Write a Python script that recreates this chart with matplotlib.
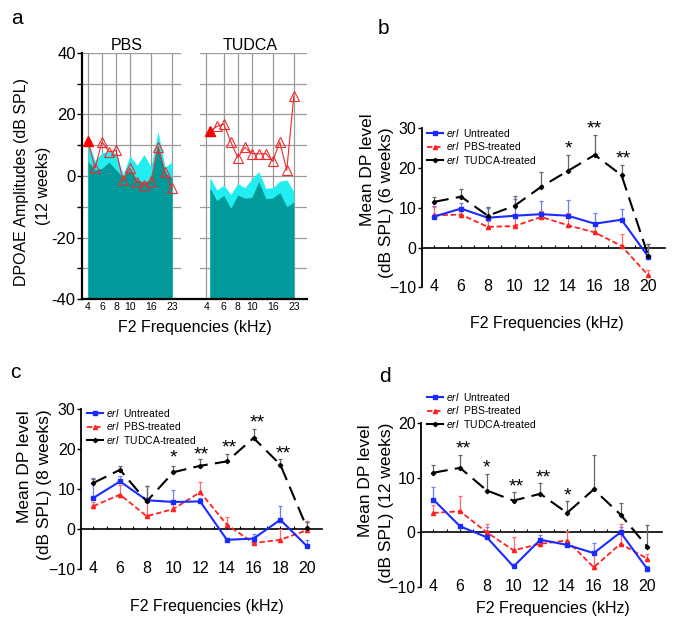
import numpy as np
import matplotlib
matplotlib.use("Agg")
import matplotlib.pyplot as plt
from matplotlib.lines import Line2D

plt.rcParams['font.family'] = ['Liberation Sans', 'DejaVu Sans']
plt.rcParams['mathtext.fontset'] = 'custom'
plt.rcParams['mathtext.it'] = 'Liberation Sans:italic'
plt.rcParams['mathtext.rm'] = 'Liberation Sans'

# ---------------- Data ----------------
# Panel a (DPOAE, 12 weeks) - 13 F2 points from 4 to 23 kHz
a_idx = np.arange(13)
a_tick_idx = [0, 2, 4, 6, 9, 12]
a_tick_labels = ['4', '6', '8', '10', '16', '23']
pbs_dp = [11.5, 2.5, 11.1, 7.9, 8.3, -1.3, 2.5, -1.8, -2.8, -1.6, 9.5, 1.4, -4.0]
pbs_noise_sd = [11, 5, 7.5, 8, 7.5, 0.5, 6.5, 3.5, 7, 3, 14.5, 3, 4.5]
pbs_noise = [4.8, 2, 2.5, 4.5, 2, -0.5, 2, -1.3, -2, -1.3, 10, 1, -0.5]
tudca_dp = [14.5, 16.1, 16.9, 11.1, 6.0, 9.3, 7.3, 7.2, 7.3, 4.8, 11.1, 1.9, 26.0]
tudca_noise_sd = [-0.5, -4.5, -3, -6, -2.4, -3.8, -1, 1.4, -4, -3.8, -1.7, -1.3, -5]
tudca_noise = [-3.8, -8, -6.3, -10.5, -6.2, -7.2, -7, -1.8, -7.4, -7.1, -5.4, -10, -8.5]

# Panels b-d (mean DP level)
freqs = [4, 6, 8, 10, 12, 14, 16, 18, 20]
labels = [r'$\mathit{erl}$  Untreated', r'$\mathit{erl}$  PBS-treated', r'$\mathit{erl}$  TUDCA-treated']

b_untr = [7.8, 9.8, 7.5, 8.0, 8.4, 8.0, 6.0, 7.0, -2.3]
b_untr_err = [2.7, 1.5, 2.5, 4.2, 3.3, 3.9, 2.6, 2.6, 3.3]
b_pbs = [8.1, 8.3, 5.2, 5.4, 7.7, 5.6, 3.8, 0.4, -7.0]
b_pbs_err = [2.0, 1.5, 1.5, 2.0, 1.5, 3.2, 2.5, 3.0, 1.4]
b_tudca = [11.5, 12.8, 8.0, 10.5, 15.3, 19.3, 23.3, 18.2, -2.1]
b_tudca_err = [1.3, 2.0, 2.1, 2.5, 3.7, 3.9, 4.9, 2.6, 2.9]
b_stars = [(14.0, 24.7, '*'), (16.0, 29.8, '**'), (18.1, 22.2, '**')]

c_untr = [7.75, 11.9, 7.2, 6.75, 6.9, -2.7, -2.4, 2.3, -4.3]
c_untr_err = [5.0, 1.3, 3.5, 3.0, 0.8, 0.5, 1.2, 3.5, 1.6]
c_pbs = [5.7, 8.6, 3.2, 5.0, 9.2, 1.1, -3.5, -2.7, -0.3]
c_pbs_err = [1.0, 2.5, 4.0, 1.5, 2.5, 1.8, 1.0, 2.8, 2.2]
c_tudca = [11.5, 14.8, 6.9, 14.2, 15.8, 16.9, 22.75, 16.1, 0.25]
c_tudca_err = [1.0, 0.9, 3.8, 1.5, 1.7, 1.9, 2.25, 1.4, 1.5]
c_stars = [(10.0, 17.75, '*'), (12.1, 18.6, '**'), (14.2, 20.25, '**'),
           (16.3, 26.5, '**'), (18.25, 18.8, '**')]

d_untr = [6.0, 1.1, -0.9, -6.25, -1.35, -2.3, -3.8, 0.0, -6.7]
d_untr_err = [2.3, 0.3, 1.8, 0.5, 0.8, 0.5, 1.8, 0.9, 0.6]
d_pbs = [3.55, 3.85, 0.0, -3.3, -2.1, -1.5, -6.4, -2.1, -4.8]
d_pbs_err = [1.5, 2.8, 1.6, 2.4, 0.7, 1.7, 3.0, 3.7, 0.9]
d_tudca = [10.9, 11.8, 7.65, 5.8, 7.05, 3.55, 7.85, 3.25, -2.6]
d_tudca_err = [1.35, 2.3, 3.05, 1.55, 1.9, 2.25, 6.25, 2.05, 4.0]
d_stars = [(6.25, 15.3, '**'), (8.0, 11.8, '*'), (10.2, 8.3, '**'),
           (12.2, 10.0, '**'), (14.0, 6.7, '*')]

# ---------------- Figure ----------------
W, H = 678, 628
fig = plt.figure(figsize=(W / 100, H / 100), dpi=100)


def rect(l, r, t, b):
    return [l / W, 1 - b / H, (r - l) / W, (b - t) / H]


def ftext(x, y, s, **kw):
    fig.text(x / W, 1 - y / H, s, **kw)


# ---------------- Panel a ----------------
TUD_OFF = 17.4
axa = fig.add_axes(rect(82, 307, 53, 299))
axa.set_xlim(-0.857, 31.29)
axa.set_ylim(-40, 40)
grid_c = '#9a9a9a'
for yv in range(-30, 41, 10):
    axa.plot([-0.857, 13.1], [yv, yv], color=grid_c, lw=0.9, zorder=0)
    axa.plot([16.0, 31.29], [yv, yv], color=grid_c, lw=0.9, zorder=0)
for i in a_tick_idx:
    axa.plot([i, i], [-40, 40], color=grid_c, lw=0.9, zorder=0)
    xi = i + TUD_OFF if i > 0 else TUD_OFF - 0.6
    axa.plot([xi, xi], [-40, 40], color=grid_c, lw=0.9, zorder=0)

cyan = '#22eef2'
teal = '#009a9a'
xp = a_idx
xt = a_idx + TUD_OFF
axa.fill_between(xp, -40, pbs_noise_sd, color=cyan, lw=0, zorder=1)
axa.fill_between(xp, -40, pbs_noise, color=teal, lw=0, zorder=2)
axa.fill_between(xt, -40, tudca_noise_sd, color=cyan, lw=0, zorder=1)
axa.fill_between(xt, -40, tudca_noise, color=teal, lw=0, zorder=2)

red = '#ee2a2a'
for xs, ys in ((xp, pbs_dp), (xt, tudca_dp)):
    axa.plot(xs, ys, color=red, lw=0.8, zorder=3)
    axa.plot(xs[1:], ys[1:], ls='none', marker='^', ms=6.5, mfc='none',
             mec=red, mew=0.8, zorder=4)
    axa.plot(xs[:1], ys[:1], ls='none', marker='^', ms=6.5, mfc='red',
             mec='red', zorder=4)

for s in ('top', 'right'):
    axa.spines[s].set_visible(False)
axa.spines['left'].set_linewidth(1.6)
axa.spines['bottom'].set_linewidth(1.6)
axa.set_yticks(range(-40, 41, 10))
axa.set_yticklabels(['-40', '', '-20', '', '0', '', '20', '', '40'])
axa.tick_params(axis='y', direction='out', length=3.5, width=1, labelsize=12, pad=1)
xticks_a = list(a_tick_idx) + [TUD_OFF - 0.4] + [i + TUD_OFF for i in a_tick_idx[1:]]
axa.set_xticks(xticks_a)
axa.set_xticklabels(a_tick_labels + a_tick_labels, fontsize=7.5)
axa.tick_params(axis='x', length=0, pad=2.5)

ftext(127, 45, 'PBS', fontsize=11.5, ha='center', va='center')
ftext(250, 45, 'TUDCA', fontsize=11.5, ha='center', va='center')
ftext(22, 182, 'DPOAE Amplitudes (dB SPL)', fontsize=11.5, rotation=90, ha='center', va='center')
ftext(43, 186, '(12 weeks)', fontsize=11.5, rotation=90, ha='center', va='center')
ftext(195, 327, 'F2 Frequencies (kHz)', fontsize=11.5, ha='center', va='center')
ftext(17, 18, 'a', fontsize=15, ha='center', va='center')


# ---------------- Panels b-d ----------------
def dp_panel(r, xlim, ylim, yticks, untr, untr_e, pbs, pbs_e, tud, tud_e, stars,
             leg_xy, lab1, lab2, xlab, letter):
    ax = fig.add_axes(rect(*r))
    ax.set_xlim(*xlim)
    ax.set_ylim(*ylim)
    zero = np.zeros(len(freqs))
    ax.errorbar(freqs, untr, yerr=[zero, untr_e], fmt='none', ecolor='#6a7cff',
                elinewidth=0.9, capsize=1.5, capthick=0.9, zorder=2)
    ax.errorbar(freqs, pbs, yerr=[zero, pbs_e], fmt='none', ecolor='#ff6a6a',
                elinewidth=0.9, capsize=1.5, capthick=0.9, zorder=2)
    ax.errorbar(freqs, tud, yerr=[zero, tud_e], fmt='none', ecolor='#666666',
                elinewidth=0.9, capsize=1.5, capthick=0.9, zorder=2)
    l1, = ax.plot(freqs, untr, color='#1a2bff', lw=1.5, marker='s', ms=3, zorder=4)
    l2, = ax.plot(freqs, pbs, color='#ff2020', lw=1.3, dashes=(3, 1.5), marker='^',
                  ms=3, zorder=3)
    l3, = ax.plot(freqs, tud, color='black', lw=1.5, dashes=(7, 3.5), marker='D',
                  ms=2.2, zorder=5)
    for xs, ys, s in stars:
        ax.text(xs, ys, s, fontsize=14, ha='center', va='center')
    for s in ('top', 'right', 'bottom'):
        ax.spines[s].set_visible(False)
    ax.spines['left'].set_linewidth(1.3)
    ax.set_yticks(yticks)
    ax.tick_params(axis='y', direction='out', length=3, width=1, labelsize=11.5, pad=1)
    ax.set_xticks(freqs)
    ax.tick_params(axis='x', length=0, labelsize=11.5, pad=-6)
    frac = (0 - ylim[0]) / (ylim[1] - ylim[0])
    sec = ax.secondary_xaxis(frac)
    sec.set_xticks(np.arange(4, 21, 1))
    sec.tick_params(direction='in', length=2, width=0.8, labelbottom=False)
    sec.spines['bottom'].set_linewidth(1.2)
    hs = [Line2D([], [], color='#1a2bff', lw=1.5, marker='s', ms=3),
          Line2D([], [], color='#ff2020', lw=1.3, dashes=(3, 1.5), marker='^', ms=3),
          Line2D([], [], color='black', lw=1.5, marker='D', ms=2.2)]
    fig.legend(hs, labels, loc='upper left',
               bbox_to_anchor=(leg_xy[0] / W, 1 - leg_xy[1] / H),
               frameon=False, fontsize=7.5, handlelength=1.55, handletextpad=0.3,
               labelspacing=0.12, borderpad=0, borderaxespad=0, numpoints=1)
    ftext(lab1[0], lab1[1], 'Mean DP level', fontsize=12.5, rotation=90,
          ha='center', va='center')
    ftext(lab2[0], lab2[1], lab2[2], fontsize=12.5, rotation=90,
          ha='center', va='center')
    ftext(xlab[0], xlab[1], 'F2 Frequencies (kHz)', fontsize=11.5, ha='center', va='center')
    ftext(letter[0], letter[1], letter[2], fontsize=15, ha='center', va='center')
    return ax


dp_panel((421.7, 665, 128.3, 287.3), (3.06, 21.25), (-10, 30), [-10, 0, 10, 20, 30],
         b_untr, b_untr_err, b_pbs, b_pbs_err, b_tudca, b_tudca_err, b_stars,
         (427, 127), (367, 170), (387, 203, '(dB SPL) (6 weeks)'), (547, 323),
         (383, 28, 'b'))

dp_panel((81, 321.7, 409, 569), (3.08, 21.1), (-10, 30), [-10, 0, 10, 20, 30],
         c_untr, c_untr_err, c_pbs, c_pbs_err, c_tudca, c_tudca_err, c_stars,
         (87, 407), (25, 467), (45, 485, '(dB SPL) (8 weeks)'), (207, 607),
         (15, 373, 'c'))

dp_panel((421, 661.7, 423, 587), (3.08, 21.08), (-10, 20), [-10, 0, 10, 20],
         d_untr, d_untr_err, d_pbs, d_pbs_err, d_tudca, d_tudca_err, d_stars,
         (427, 391), (365, 481), (387, 503, '(dB SPL) (12 weeks)'), (553, 609),
         (385, 377, 'd'))

fig.savefig('out.png', dpi=100)
